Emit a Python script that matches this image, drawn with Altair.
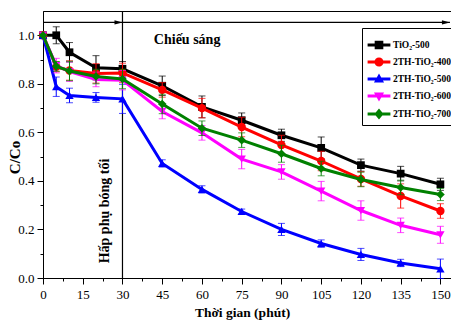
import altair as alt
import pandas as pd

# ---------------- data ----------------
times = [0, 5, 10, 20, 30, 45, 60, 75, 90, 105, 120, 135, 150]
series_names = ["TiO₂-500", "2TH-TiO₂-400", "2TH-TiO₂-500", "2TH-TiO₂-600", "2TH-TiO₂-700"]
colors = ["#000000", "#ff0000", "#0000ff", "#ff00ff", "#008000"]

tio2_500 = [1.0, 1.0, 0.93, 0.866, 0.862, 0.792, 0.705, 0.65, 0.588, 0.536, 0.465, 0.43, 0.386]
th_400 = [1.0, 0.87, 0.855, 0.843, 0.845, 0.775, 0.70, 0.622, 0.548, 0.482, 0.408, 0.338, 0.276]
th_500 = [1.0, 0.788, 0.752, 0.744, 0.738, 0.472, 0.365, 0.274, 0.20, 0.142, 0.097, 0.062, 0.038]
th_600 = [1.0, 0.875, 0.85, 0.818, 0.815, 0.686, 0.598, 0.49, 0.437, 0.358, 0.278, 0.217, 0.178]
th_700 = [1.0, 0.872, 0.853, 0.83, 0.82, 0.717, 0.617, 0.568, 0.512, 0.451, 0.406, 0.373, 0.344]

err_tio2_500 = [0, 0.035, 0.04, 0.05, 0.03, 0.04, 0.045, 0.03, 0.025, 0.045, 0.025, 0.03, 0.025]
err_th_400 = [0, 0.02, 0.04, 0.04, 0.04, 0.03, 0.04, 0.04, 0.04, 0.04, 0.03, 0.05, 0.03]
err_th_500 = [0, 0.04, 0.03, 0.02, 0.06, 0.015, 0.015, 0.01, 0.025, 0.015, 0.025, 0.015, 0.04]
err_th_600 = [0, 0.03, 0.04, 0.03, 0.04, 0.03, 0.03, 0.04, 0.03, 0.04, 0.04, 0.03, 0.035]
err_th_700 = [0, 0.02, 0.04, 0.03, 0.04, 0.04, 0.03, 0.03, 0.035, 0.03, 0.03, 0.03, 0.025]

values_all = [tio2_500, th_400, th_500, th_600, th_700]
errors_all = [err_tio2_500, err_th_400, err_th_500, err_th_600, err_th_700]

# annotations (data coordinates)
light_label = ["Chiếu sáng"]
light_x = [54.4]
light_y = [0.964]
dark_label = ["Hấp phụ bóng tối"]
dark_x = [23.4]
dark_y = [0.276]
divider_x = [30]
arrow_y = [1.053]
arrow_x_start = [0]
arrow_x_end = [153.6]
arrow_heads_x = [28.5, 152.1]

# ---------------- tables ----------------
rows = []
for name, vals, errs in zip(series_names, values_all, errors_all):
    for t, v, e in zip(times, vals, errs):
        rows.append({"series": name, "time": t, "value": v, "lo": v - e, "hi": v + e})
df = pd.DataFrame(rows)

FONT = "Liberation Serif"
W, H = 408, 267
X_DOMAIN = [0, 154]
Y_DOMAIN = [0, 1.1]

x_axis = alt.Axis(
    title="Thời gian (phút)",
    values=[i * 7.5 for i in range(21)],
    labelExpr="datum.value % 15 === 0 ? datum.label : ''",
    tickSize={"condition": {"test": "datum.value % 15 === 0", "value": 6}, "value": 3},
    grid=False,
    labelFont=FONT, labelFontSize=13, labelColor="black", labelPadding=4,
    titleFont=FONT, titleFontSize=13.5, titleFontWeight="bold", titleColor="black",
    titleX=199, titleY=38, titleBaseline="alphabetic", titleAnchor="middle",
    domainColor="black", tickColor="black", labelFlush=False,
)
y_axis = alt.Axis(
    title="C/Co",
    values=[round(i * 0.1, 1) for i in range(11)],
    format=".1f",
    labelExpr="round(datum.value * 10) % 2 === 0 ? datum.label : ''",
    tickSize={"condition": {"test": "round(datum.value * 10) % 2 === 0", "value": 6}, "value": 3},
    grid=False,
    labelFont=FONT, labelFontSize=13, labelColor="black", labelPadding=3,
    titleFont=FONT, titleFontSize=15, titleFontWeight="bold", titleColor="black",
    titleX=-29, titleY=146, titleBaseline="middle", titleAngle=270,
    domainColor="black", tickColor="black", labelFlush=False,
)


def X(field):
    return alt.X(f"{field}:Q", scale=alt.Scale(domain=X_DOMAIN, nice=False, zero=False), axis=x_axis)


def Y(field):
    return alt.Y(f"{field}:Q", scale=alt.Scale(domain=Y_DOMAIN, nice=False, zero=False), axis=y_axis)


base = alt.Chart(df)
layers = []

# divider line at 30 min
div_df = pd.DataFrame({"x": divider_x, "y0": [Y_DOMAIN[0]], "y1": [Y_DOMAIN[1]]})
layers.append(
    alt.Chart(div_df).mark_rule(color="black", strokeWidth=1.2).encode(x=X("x"), y=Y("y0"), y2="y1")
)

# arrow line
arr_df = pd.DataFrame({"x0": arrow_x_start, "x1": arrow_x_end, "y": arrow_y})
layers.append(
    alt.Chart(arr_df).mark_rule(color="black", strokeWidth=1.3).encode(x=X("x0"), x2="x1", y=Y("y"))
)
head_df = pd.DataFrame({"x": arrow_heads_x, "y": arrow_y * len(arrow_heads_x)})
layers.append(
    alt.Chart(head_df).mark_point(shape="M1,0L-1,-0.55L-1,0.55Z", filled=True, size=64,
                                  color="black", opacity=1).encode(x=X("x"), y=Y("y"))
)

marker_shapes = ["square", "circle", "triangle-up", "triangle-down", "diamond"]
marker_sizes = [60, 70, 70, 70, 75]

for name, col, shp, sz in zip(series_names, colors, marker_shapes, marker_sizes):
    s = base.transform_filter(alt.datum.series == name)
    layers.append(s.mark_rule(color=col, strokeWidth=1).encode(x=X("time"), y=Y("lo"), y2="hi"))
    layers.append(s.mark_tick(color=col, orient="horizontal", size=7, thickness=1).encode(x=X("time"), y=Y("lo")))
    layers.append(s.mark_tick(color=col, orient="horizontal", size=7, thickness=1).encode(x=X("time"), y=Y("hi")))
    layers.append(s.mark_line(color=col, strokeWidth=3).encode(x=X("time"), y=Y("value")))
    layers.append(
        s.mark_point(color=col, shape=shp, filled=True, size=sz, opacity=1).encode(x=X("time"), y=Y("value"))
    )

# text annotations
light_df = pd.DataFrame({"x": light_x, "y": light_y, "t": light_label})
layers.append(
    alt.Chart(light_df).mark_text(font=FONT, fontSize=14, fontWeight="bold", color="black",
                                  align="center", baseline="alphabetic").encode(x=X("x"), y=Y("y"), text="t")
)
dark_df = pd.DataFrame({"x": dark_x, "y": dark_y, "t": dark_label})
layers.append(
    alt.Chart(dark_df).mark_text(font=FONT, fontSize=14, fontWeight="bold", color="black",
                                 align="center", baseline="middle", angle=270).encode(x=X("x"), y=Y("y"), text="t")
)

# legend (built from scales; no visible marks)
legend_paths = [
    "M-0.95,-0.12H0.95V0.12H-0.95Z M-0.36,-0.36H0.36V0.36H-0.36Z",
    "M-0.95,-0.12H0.95V0.12H-0.95Z M0.38,0A0.38,0.38 0 1,1 -0.38,0A0.38,0.38 0 1,1 0.38,0Z",
    "M-0.95,-0.12H0.95V0.12H-0.95Z M0,-0.45L0.42,0.3H-0.42Z",
    "M-0.95,-0.12H0.95V0.12H-0.95Z M0,0.45L-0.42,-0.3H0.42Z",
    "M-0.95,-0.12H0.95V0.12H-0.95Z M0,-0.45L0.38,0L0,0.45L-0.38,0Z",
]
leg = alt.Legend(
    title=None, orient="none", legendX=319, legendY=17, direction="vertical",
    padding=5, strokeColor="black", fillColor="white",
    symbolSize=576, symbolStrokeWidth=0, symbolOpacity=1,
    labelFont=FONT, labelFontSize=9.5, labelFontWeight="bold", labelColor="black",
    labelOffset=2, rowPadding=-7, labelLimit=200,
)
layers.append(
    base.transform_filter("datum.time < 0").mark_point(filled=True, opacity=1).encode(
        color=alt.Color("series:N", scale=alt.Scale(domain=series_names, range=colors), legend=leg),
        shape=alt.Shape("series:N", scale=alt.Scale(domain=series_names, range=legend_paths), legend=leg),
    )
)

chart = alt.layer(*layers).properties(
    width=W, height=H,
    autosize=alt.AutoSizeParams(type="none"),
    padding={"left": 43, "top": 11, "right": 0, "bottom": 43},
    background="white",
).configure_view(stroke="black", strokeWidth=1)

chart.save("out.html", embed_options={"renderer": "svg", "actions": False})
